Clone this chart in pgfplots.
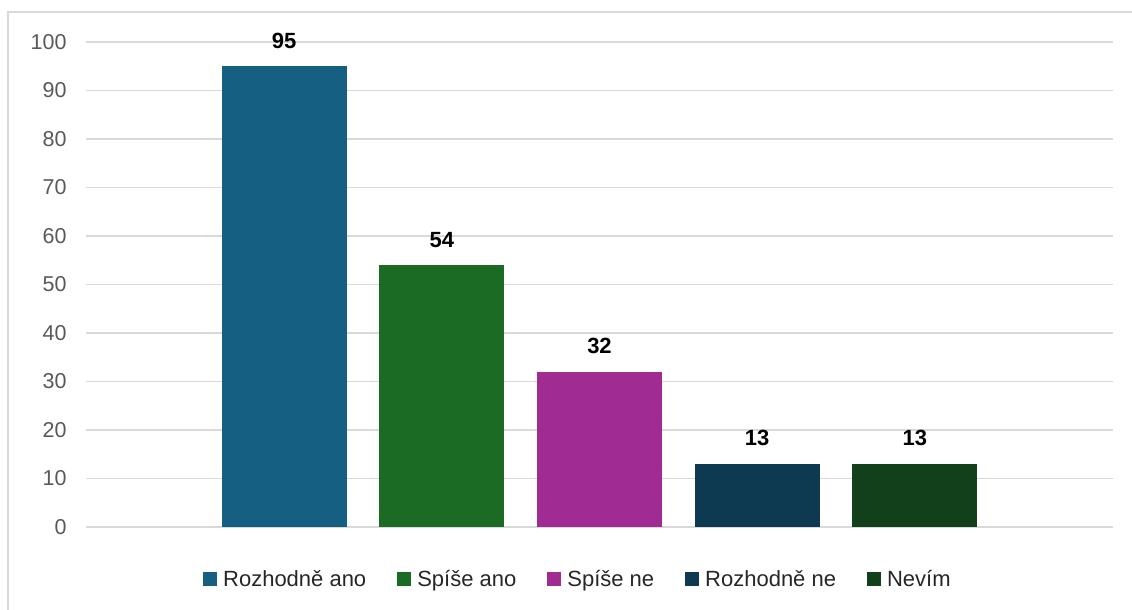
\documentclass[border=0pt]{standalone}
\usepackage{pgfplots}
\pgfplotsset{compat=1.18}
\usepackage{fontspec}
\setmainfont{Liberation Sans}

\definecolor{gridgray}{HTML}{D9D9D9}
\definecolor{ticktext}{HTML}{595959}
\definecolor{legtext}{HTML}{262626}
\definecolor{cA}{HTML}{156082}
\definecolor{cB}{HTML}{1B6B25}
\definecolor{cC}{HTML}{A02B93}
\definecolor{cD}{HTML}{0E3A51}
\definecolor{cE}{HTML}{12401A}

\begin{document}
\begin{tikzpicture}[x=1pt,y=1pt]
  \path[use as bounding box] (0,0) rectangle (1132,610);
  % chart frame
  \draw[gridgray, line width=1.5pt] (8,0) -- (8,598) -- (1140,598);
  \begin{axis}[
    at={(86pt,83pt)}, anchor=south west,
    scale only axis,
    width=1027pt, height=485pt,
    ymin=0, ymax=100,
    xmin=-1, xmax=1,
    ytick={0,10,...,100},
    xtick=\empty,
    ymajorgrids,
    grid style={gridgray, line width=1.5pt},
    axis line style={draw=none},
    major tick length=0pt,
    /pgf/number format/assume math mode=true,
    yticklabel style={font=\fontsize{21.5}{25}\selectfont, text=ticktext, xshift=-16pt},
    ybar=32.7pt,
    bar width=125pt,
    nodes near coords,
    every node near coord/.append style={font=\fontsize{22}{26}\selectfont\bfseries, text=black, anchor=base, yshift=18pt},
    legend image code/.code={\path[#1] (0pt,-7pt) rectangle (14pt,7pt);},
    legend style={
      at={(0.478,-0.107)}, anchor=center,
      draw=none, fill=none,
      legend columns=-1,
      font=\fontsize{22}{26}\selectfont,
      text=legtext,
      nodes={inner sep=0pt},
      /tikz/every odd column/.append style={column sep=6pt},
      /tikz/every even column/.append style={column sep=31pt},
    },
  ]
    \addplot[fill=cA, draw=none] coordinates {(0,95)};
    \addplot[fill=cB, draw=none] coordinates {(0,54)};
    \addplot[fill=cC, draw=none] coordinates {(0,32)};
    \addplot[fill=cD, draw=none] coordinates {(0,13)};
    \addplot[fill=cE, draw=none] coordinates {(0,13)};
    \legend{Rozhodně ano, Spíše ano, Spíše ne, Rozhodně ne, Nevím}
  \end{axis}
\end{tikzpicture}
\end{document}
